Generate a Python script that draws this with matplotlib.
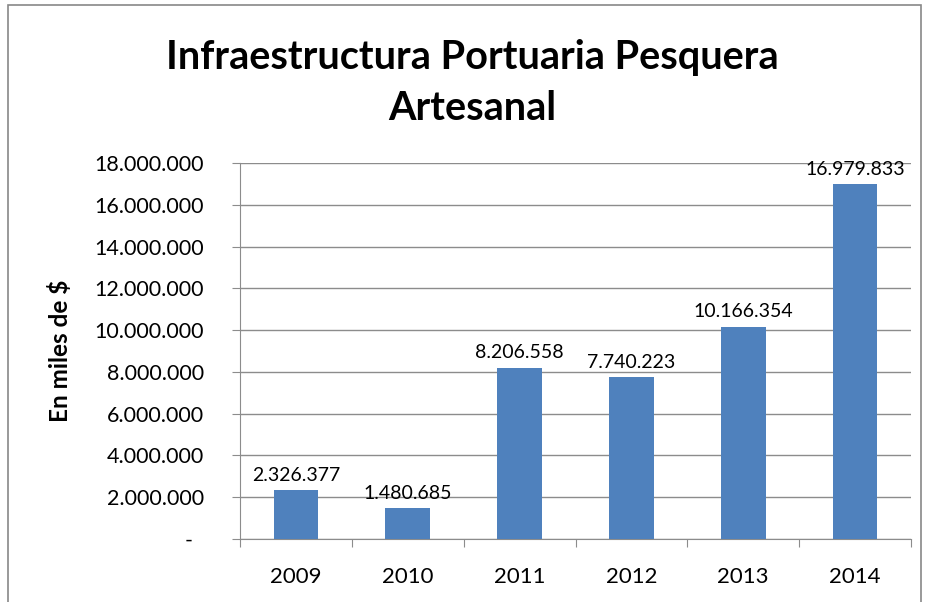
import matplotlib.pyplot as plt
from matplotlib.patches import Rectangle
from matplotlib.ticker import FuncFormatter, MultipleLocator

years = ["2009", "2010", "2011", "2012", "2013", "2014"]
values = [2326377, 1480685, 8206558, 7740223, 10166354, 16979833]

plt.rcParams["font.family"] = ["Lato", "DejaVu Sans"]


def miles(x):
    if x == 0:
        return "-  "
    return f"{int(round(x)):,}".replace(",", ".")


fig = plt.figure(figsize=(9.25, 6.02), dpi=100)
ax = fig.add_axes([240 / 925, 1 - 539 / 602, 671 / 925, 376 / 602])

# chart border (bottom cut off like the screenshot)
fig.add_artist(Rectangle((8 / 925, -0.05), 913 / 925, 1 - 5 / 602 + 0.05,
                         transform=fig.transFigure, fill=False,
                         edgecolor="#888888", linewidth=1.2))

x = range(len(years))
ax.bar(x, values, width=0.4, color="#4f81bd", zorder=3)

for i, v in enumerate(values):
    ax.text(i, v + 300000, miles(v), ha="center", va="bottom", fontsize=14, color="#000000")

ax.set_xlim(-0.5, len(years) - 0.5)
ax.set_ylim(0, 18000000)
ax.yaxis.set_major_locator(MultipleLocator(2000000))
ax.yaxis.set_major_formatter(FuncFormatter(lambda v, pos: miles(v)))
ax.grid(axis="y", color="#8c8c8c", linewidth=1.0, zorder=0)

ax.set_xticks([i - 0.5 for i in range(len(years) + 1)])
ax.set_xticklabels([])
ax.set_xticks(list(x), minor=True)
ax.set_xticklabels(years, minor=True, fontsize=16)
ax.tick_params(axis="x", which="minor", length=0, pad=20)
ax.tick_params(axis="x", which="major", length=6, color="#8c8c8c", direction="out")
ax.tick_params(axis="y", length=6, color="#8c8c8c", labelsize=15.5, pad=20)

for side in ["top", "right"]:
    ax.spines[side].set_visible(False)
ax.spines["left"].set_color("#8c8c8c")
ax.spines["bottom"].set_color("#8c8c8c")

ax.set_ylabel("En miles de $", fontsize=17.5, fontweight="bold", labelpad=16)

fig.text(472 / 925, 1 - 57 / 602, "Infraestructura Portuaria Pesquera",
         ha="center", va="center", fontsize=28.5, fontweight="bold")
fig.text(472 / 925, 1 - 108 / 602, "Artesanal",
         ha="center", va="center", fontsize=28.5, fontweight="bold")

fig.savefig("out.png", dpi=100)
